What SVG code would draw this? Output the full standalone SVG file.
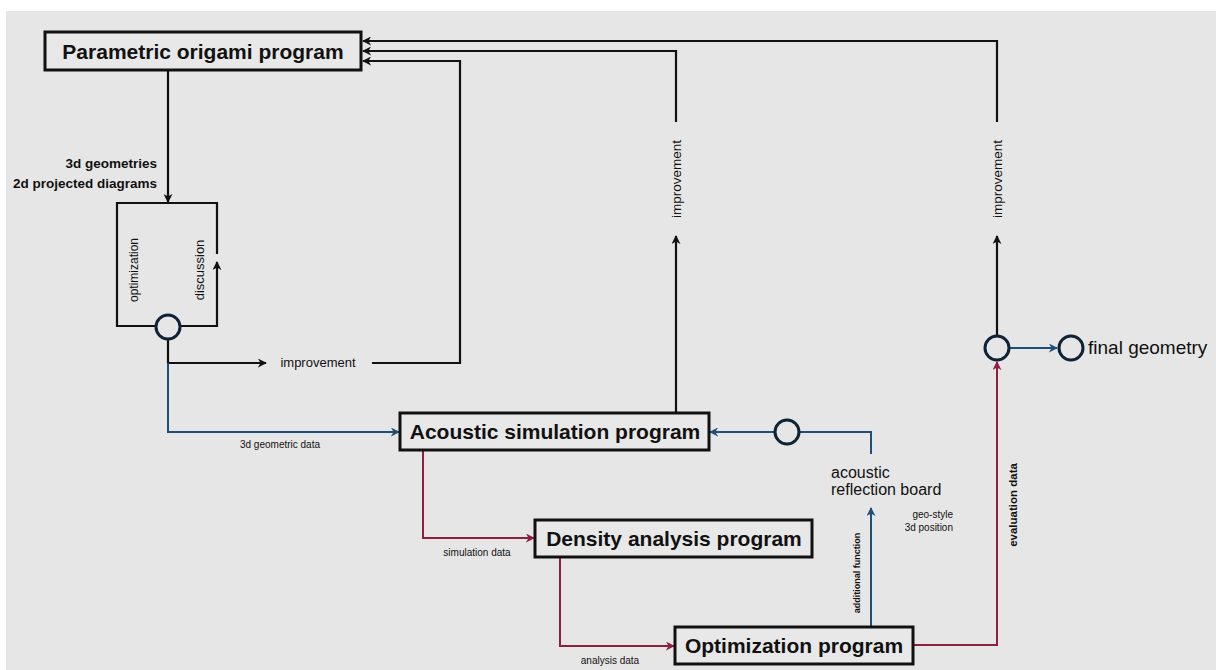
<svg xmlns="http://www.w3.org/2000/svg" width="1216" height="670" viewBox="0 0 1216 670">
<style>
.box{fill:#e8e8e8;stroke:#111;stroke-width:3}
.title{font-family:"Liberation Sans",Arial,sans-serif;font-weight:bold;font-size:21px;fill:#111;text-anchor:middle}
.lbl{font-family:"Liberation Sans",Arial,sans-serif;fill:#111}
.k{fill:none;stroke:#111;stroke-width:2.2}
.b{fill:none;stroke:#1d4f7a;stroke-width:2}
.r{fill:none;stroke:#8e1f3f;stroke-width:2}
.c{fill:none;stroke:#0f2236;stroke-width:3}
</style>
<defs>
<marker id="akl" viewBox="0 0 10 10" refX="9" refY="5" markerWidth="9" markerHeight="9" orient="auto" markerUnits="userSpaceOnUse"><path d="M0,0 L10,5 L0,10 L3,5 z" fill="#111"/></marker>
<marker id="ab" viewBox="0 0 10 10" refX="9" refY="5" markerWidth="9" markerHeight="9" orient="auto" markerUnits="userSpaceOnUse"><path d="M0,0 L10,5 L0,10 L3,5 z" fill="#1d4f7a"/></marker>
<marker id="ar" viewBox="0 0 10 10" refX="9" refY="5" markerWidth="9" markerHeight="9" orient="auto" markerUnits="userSpaceOnUse"><path d="M0,0 L10,5 L0,10 L3,5 z" fill="#8e1f3f"/></marker>
</defs>
<rect x="0" y="0" width="1216" height="670" fill="#ffffff"/>
<rect x="6" y="11" width="1210" height="659" fill="#e6e6e6"/>

<g id="connectors">
  <polyline class="k" points="997,122 997,41 363,41" marker-end="url(#akl)"/>
  <polyline class="k" points="676,122 676,51 363,51" marker-end="url(#akl)"/>
  <polyline class="k" points="372,363 460,363 460,61 363,61" marker-end="url(#akl)"/>
  <line class="k" x1="168" y1="71" x2="168" y2="202" marker-end="url(#akl)"/>
  <polyline class="k" points="155,326 117,326 117,203 217,203 217,254"/>
  <polyline class="k" points="181,326 217,326 217,262" marker-end="url(#akl)"/>
  <line class="k" x1="168" y1="363" x2="266" y2="363" marker-end="url(#akl)"/>
  <line class="k" x1="168" y1="340" x2="168" y2="363"/>
  <polyline class="b" points="168,363 168,432 399,432" marker-end="url(#ab)"/>
  <line class="k" x1="676" y1="412" x2="676" y2="236" marker-end="url(#akl)"/>
  <line class="k" x1="997" y1="335" x2="997" y2="236" marker-end="url(#akl)"/>
  <line class="b" x1="1010" y1="348" x2="1057" y2="348" marker-end="url(#ab)"/>
  <polyline class="r" points="423,450 423,538 534,538" marker-end="url(#ar)"/>
  <polyline class="r" points="560,557 560,646 674,646" marker-end="url(#ar)"/>
  <polyline class="r" points="913,645 997,645 997,362" marker-end="url(#ar)"/>
  <line class="b" x1="871" y1="627" x2="871" y2="508" marker-end="url(#ab)"/>
  <polyline class="b" points="871,454 871,432 800,432"/>
  <line class="b" x1="774" y1="432" x2="710" y2="432" marker-end="url(#ab)"/>
</g>

<g id="n-parametric">
  <rect class="box" x="45" y="32" width="316" height="38"/>
  <text class="title" x="203" y="59">Parametric origami program</text>
</g>
<g id="n-loop">
  <text class="lbl" font-size="12" transform="translate(138,270) rotate(-90)" text-anchor="middle">optimization</text>
  <text class="lbl" font-size="13" transform="translate(204,270) rotate(-90)" text-anchor="middle">discussion</text>
  <circle class="c" cx="168" cy="327" r="12"/>
</g>
<g id="n-acoustic">
  <rect class="box" x="400" y="413" width="309" height="37"/>
  <text class="title" x="555" y="439">Acoustic simulation program</text>
</g>
<g id="n-density">
  <rect class="box" x="535" y="520" width="277" height="37"/>
  <text class="title" x="674" y="546">Density analysis program</text>
</g>
<g id="n-optimization">
  <rect class="box" x="675" y="627" width="238" height="37"/>
  <text class="title" x="794" y="653">Optimization program</text>
</g>
<g id="n-circle-board">
  <circle class="c" cx="787" cy="432" r="12"/>
</g>
<g id="n-circle-eval">
  <circle class="c" cx="997" cy="348" r="12"/>
</g>
<g id="n-final">
  <circle class="c" cx="1071" cy="348" r="12"/>
  <text class="lbl" x="1088" y="354" font-size="19">final geometry</text>
</g>

<g id="labels">
  <text class="lbl" x="157" y="168" font-size="13.5" font-weight="bold" text-anchor="end">3d geometries</text>
  <text class="lbl" x="157" y="188" font-size="13.5" font-weight="bold" text-anchor="end">2d projected diagrams</text>
  <text class="lbl" x="318" y="367" font-size="13" text-anchor="middle">improvement</text>
  <text class="lbl" x="280" y="448" font-size="10" text-anchor="middle">3d geometric data</text>
  <text class="lbl" x="477" y="556" font-size="10" text-anchor="middle">simulation data</text>
  <text class="lbl" x="610" y="664" font-size="10" text-anchor="middle">analysis data</text>
  <text class="lbl" font-size="13.5" transform="translate(681,179) rotate(-90)" text-anchor="middle">improvement</text>
  <text class="lbl" font-size="13.5" transform="translate(1002,179) rotate(-90)" text-anchor="middle">improvement</text>
  <text class="lbl" x="831" y="478" font-size="16">acoustic</text>
  <text class="lbl" x="831" y="495" font-size="16">reflection board</text>
  <text class="lbl" x="953" y="518" font-size="10" text-anchor="end">geo-style</text>
  <text class="lbl" x="953" y="531" font-size="10" text-anchor="end">3d position</text>
  <text class="lbl" font-size="9" font-weight="bold" transform="translate(860,573) rotate(-90)" text-anchor="middle">additional function</text>
  <text class="lbl" font-size="11.5" font-weight="bold" transform="translate(1017,505) rotate(-90)" text-anchor="middle">evaluation data</text>
</g>
</svg>
